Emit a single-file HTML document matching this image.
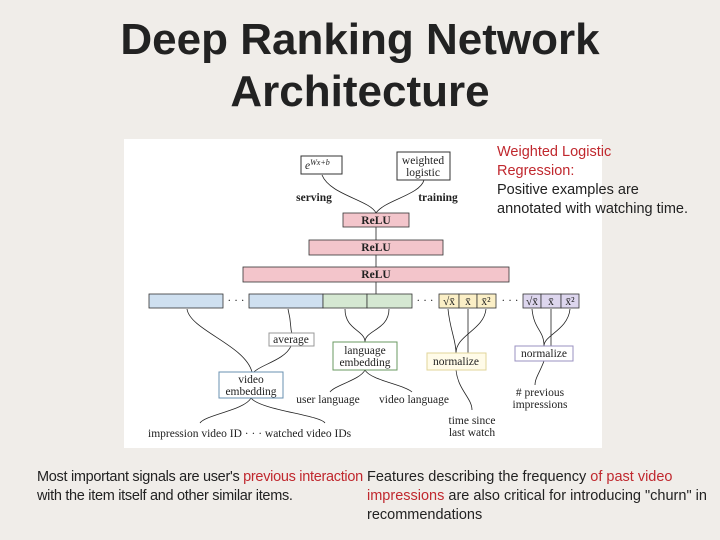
<!DOCTYPE html>
<html><head><meta charset="utf-8"><style>
body{margin:0;width:720px;height:540px;background:#f0ede9;position:relative;overflow:hidden;font-family:"Liberation Sans",sans-serif;}
.t{position:absolute;left:0;width:720px;text-align:center;font-size:44px;font-weight:bold;color:#222;line-height:52px;}
.txt{position:absolute;font-size:14.5px;color:#222;line-height:19px;}
.r{color:#c0282e}
svg{position:absolute;left:0;top:0}
svg text{font-family:"Liberation Serif",serif;font-size:11.5px;fill:#222}
</style></head><body>
<div class="t" style="top:14px">Deep Ranking Network<br>Architecture</div>
<svg width="720" height="540">
<rect x="124" y="139" width="478" height="309" fill="#fff"/>
<g fill="none" stroke="#222" stroke-width="0.8">
<path d="M322 175 C330 195 370 200 376 213"/><path d="M424 180 C420 195 385 200 376 213"/>
<path d="M376 227 V240 M376 255 V267 M376 282 V294"/>
<path d="M187 309 C190 330 245 345 252 372"/><path d="M288 309 C292 325 290 330 292 333"/>
<path d="M291 346 C285 360 260 365 254 372"/>
<path d="M345 309 C345 330 365 330 365 342 M389 309 C389 330 365 330 365 342"/>
<path d="M448 309 C450 330 456 340 456 353 M468 309 V353 M486 309 C484 330 456 335 456 353"/>
<path d="M532 309 C534 330 544 330 544 346 M551 309 V346 M570 309 C568 330 544 335 544 346"/>
<path d="M456 370 C458 390 472 398 472 410"/><path d="M544 361 C540 372 535 378 535 385"/>
<path d="M365 370 C360 380 335 385 330 392 M365 370 C370 380 405 385 412 392"/>
<path d="M251 398 C245 410 205 415 200 423 M251 398 C260 410 320 415 325 423"/>
</g>
<rect x="301" y="156" width="41" height="18" fill="#fff" stroke="#333"/>
<text x="305" y="169" font-style="italic">e<tspan dy="-4" font-size="8">Wx+b</tspan></text>
<rect x="397" y="152" width="53" height="28" fill="#fff" stroke="#333"/>
<text x="423" y="164" text-anchor="middle">weighted</text><text x="423" y="176" text-anchor="middle">logistic</text>
<text x="314" y="201" text-anchor="middle" font-weight="bold">serving</text>
<text x="438" y="201" text-anchor="middle" font-weight="bold">training</text>
<g fill="#f3c5cb" stroke="#333" stroke-width="0.8">
<rect x="343" y="213" width="66" height="14"/><rect x="309" y="240" width="134" height="15"/><rect x="243" y="267" width="266" height="15"/>
</g>
<text x="376" y="224" text-anchor="middle" font-weight="bold">ReLU</text>
<text x="376" y="251" text-anchor="middle" font-weight="bold">ReLU</text>
<text x="376" y="278" text-anchor="middle" font-weight="bold">ReLU</text>
<g stroke="#333" stroke-width="0.8">
<rect x="149" y="294" width="74" height="14" fill="#cfe0f0"/>
<rect x="249" y="294" width="74" height="14" fill="#cfe0f0"/>
<rect x="323" y="294" width="44" height="14" fill="#d5e8d2"/><rect x="367" y="294" width="45" height="14" fill="#d5e8d2"/>
<rect x="439" y="294" width="20" height="14" fill="#fbefc6"/><rect x="459" y="294" width="18" height="14" fill="#fbefc6"/><rect x="477" y="294" width="19" height="14" fill="#fbefc6"/>
<rect x="523" y="294" width="18" height="14" fill="#ddd6ee"/><rect x="541" y="294" width="20" height="14" fill="#ddd6ee"/><rect x="561" y="294" width="18" height="14" fill="#ddd6ee"/>
</g>
<text x="236" y="304" text-anchor="middle">· · ·</text><text x="425" y="304" text-anchor="middle">· · ·</text><text x="510" y="304" text-anchor="middle">· · ·</text>
<text x="449" y="305" text-anchor="middle" font-size="9">√x̄</text><text x="468" y="305" text-anchor="middle" font-size="9">x̄</text><text x="486" y="305" text-anchor="middle" font-size="9">x̄²</text>
<text x="532" y="305" text-anchor="middle" font-size="9">√x̄</text><text x="551" y="305" text-anchor="middle" font-size="9">x̄</text><text x="570" y="305" text-anchor="middle" font-size="9">x̄²</text>
<rect x="269" y="333" width="45" height="13" fill="#fff" stroke="#999"/><text x="291" y="343" text-anchor="middle">average</text>
<rect x="333" y="342" width="64" height="28" fill="#fff" stroke="#6a9a60"/><text x="365" y="354" text-anchor="middle">language</text><text x="365" y="366" text-anchor="middle">embedding</text>
<rect x="427" y="353" width="59" height="17" fill="#fffbe8" stroke="#e0d49a"/><text x="456" y="365" text-anchor="middle">normalize</text>
<rect x="515" y="346" width="58" height="15" fill="#fff" stroke="#9a90c0"/><text x="544" y="357" text-anchor="middle">normalize</text>
<rect x="219" y="372" width="64" height="26" fill="#fff" stroke="#6a90b0"/><text x="251" y="383" text-anchor="middle">video</text><text x="251" y="395" text-anchor="middle">embedding</text>
<text x="328" y="403" text-anchor="middle">user language</text><text x="414" y="403" text-anchor="middle">video language</text>
<text x="472" y="424" text-anchor="middle">time since</text><text x="472" y="436" text-anchor="middle">last watch</text>
<text x="540" y="396" text-anchor="middle"># previous</text><text x="540" y="408" text-anchor="middle">impressions</text>
<text x="148" y="437">impression video ID · · · watched video IDs</text>
</svg>
<div class="txt r" style="left:497px;top:143px;">Weighted Logistic<br>Regression:</div>
<div class="txt" style="left:497px;top:181px;">Positive examples are<br>annotated with watching time.</div>
<div class="txt" style="left:37px;top:468px;white-space:nowrap;letter-spacing:-0.3px;">Most important signals are user's <span class="r">previous interaction</span><br>with the item itself and other similar items.</div>
<div class="txt" style="left:367px;top:468px;width:350px;background:#f0ede9;">Features describing the frequency <span class="r">of past video impressions</span> are also critical for introducing "churn" in recommendations</div>
</body></html>
